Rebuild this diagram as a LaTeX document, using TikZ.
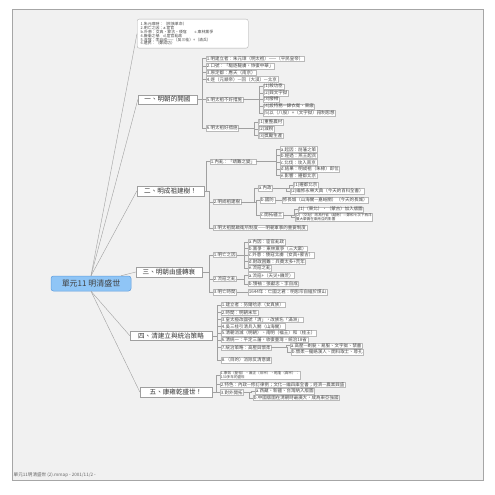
\documentclass[tikz,border=0pt]{standalone}
\usepackage{fontspec}
\setmainfont{Noto Sans CJK TC}
\usetikzlibrary{calc}
\definecolor{bg}{RGB}{241,241,241}
\definecolor{ln}{RGB}{160,160,160}
\definecolor{bx}{RGB}{185,185,185}
\definecolor{tx}{RGB}{70,70,70}
\definecolor{cfill}{RGB}{143,197,246}
\definecolor{cdraw}{RGB}{96,158,222}
\begin{document}
\begin{tikzpicture}[x=1bp,y=-1bp,
  conn/.style={draw=ln,line width=0.4bp},
  item/.style={draw=bx,line width=0.25bp,fill=white,inner xsep=0.8bp,inner ysep=0.3bp,text=tx,
    font=\fontsize{4.5}{5}\selectfont,anchor=west,minimum height=5.4bp},
  item2/.style={item,align=left,font=\fontsize{3.6}{3.5}\selectfont},
  sect/.style={draw=gray!75,line width=0.35bp,fill=white,font=\fontsize{6.6}{7}\selectfont,text=black!80,
    minimum height=9.5bp,inner xsep=2bp,inner ysep=0.5bp},
  topbox/.style={draw=gray!65,line width=0.35bp,fill=white,rounded corners=2bp,align=left,text=tx,
    font=\fontsize{3.9}{3.95}\selectfont,text width=104bp,inner xsep=3.5bp,inner ysep=2bp,
    minimum height=29bp,anchor=north west},
  central/.style={draw=cdraw,line width=0.5bp,fill=cfill,rounded corners=2.5bp,
    minimum width=80bp,minimum height=15bp,font=\fontsize{8}{9}\selectfont,text=black!75}
]
\useasboundingbox (0,0) rectangle (495,495);
\fill[white] (0,0) rectangle (495,495);
\filldraw[fill=bg,draw=gray!70,line width=0.6bp] (12,9) rectangle (483,480);
\node[anchor=west,font=\fontsize{4.6}{5}\selectfont,text=gray!80!black,inner sep=0.5bp] (foot) at (13,475) {單元11明清盛世 (2).mmap - 2001/11/2 -};

% central
\node[central] (C) at (91,283.5) {單元11 明清盛世};

% top box
\node[topbox] (top) at (137,19) {1.朱元璋時：（民族革命）\\2.明亡之因：a.宦官\\b.外患：女真、蒙古、倭寇　　c.東林黨爭\\4.廠衛之禍　d.宦官亂政\\5.流寇：李自成——（吳三桂）+（清兵）\\6.遺民：（鄭成功）};

% sections
\node[sect,minimum width=59bp] (S1) at (167.5,99.5) {一、明朝的開國};
\node[sect,minimum width=67bp] (S2) at (170.5,191) {二、明成祖建樹！};
\node[sect,minimum width=66bp] (S3) at (169,272) {三、明朝由盛轉衰};
\node[sect,minimum width=82bp] (S4) at (171,335.7) {四、清建立與統治策略};
\node[sect,minimum width=72bp] (S5) at (176,392) {五、康雍乾盛世！};

% section 1
\node[item] (a1) at (206,58.7) {1.明建立者：朱元璋（明太祖）——（平民皇帝）};
\node[item] (a2) at (206,66.2) {2.口號：「驅逐韃虜，恢復中華」};
\node[item] (a3) at (206,72.7) {3.原定都：應天（南京）};
\node[item] (a4) at (206,79.3) {4.逐（元順帝）—回（大漠）—北京};
\node[item] (a5) at (206,99.5) {5.明太祖不好措施};
\node[item] (a51) at (263,86.5) {(1)殺功臣};
\node[item] (a52) at (263,93) {(2)興文字獄};
\node[item] (a53) at (263,99.5) {(3)廢相};
\node[item] (a54) at (263,106.5) {(4)設特務—錦衣衛、東廠};
\node[item] (a55) at (263,113) {(5)以（八股）+（文字獄）箝制思想};
\node[item] (a6) at (206,128) {6.明太祖好措施};
\node[item] (a61) at (258,122.3) {(1)重整農村};
\node[item] (a62) at (258,129) {(2)減稅};
\node[item] (a63) at (258,135.7) {(3)獎勵生產};

% section 2
\node[item] (b1) at (210,161.7) {1.內亂：「靖難之變」};
\node[item] (b11) at (280,149.3) {a.起因：削藩之策};
\node[item] (b12) at (280,155.6) {b.經過：燕王起兵};
\node[item] (b13) at (280,162.3) {c.北伐：攻入南京};
\node[item] (b14) at (280,169) {d.結果：明成祖（朱棣）即位};
\node[item] (b15) at (280,175.5) {e.影響：遷都北京};
\node[item] (b2) at (213,201.7) {2.明成祖建樹};
\node[item] (b21) at (258,188) {a.內政};
\node[item] (b211) at (293,185) {(1)遷都北京};
\node[item] (b212) at (290,191) {(2)編修永樂大典（今天的百科全書）};
\node[item] (b22) at (260,200) {b.國防};
\node[item] (b221) at (282,200) {修長城（山海關—嘉峪關）（今天的長城）};
\node[item] (b23) at (260,215) {c.開拓疆土};
\node[item] (b231) at (298,209.5) {(1)（東北）、（蒙古）加入版圖};
\node[item2] (b232) at (295,217) {(2)（交趾）改為行省（越南）—鄭和七次下西洋\\擴大華僑在東南亞的影響};
\node[item] (b3) at (213,227.7) {3.明太祖開啟衛所制度——明朝軍事的重要制度};

% section 3
\node[item] (c1) at (213,254.7) {1.明亡之因};
\node[item] (c11) at (248,242) {a.內因：宦官亂政};
\node[item] (c12) at (248,248.5) {b.黨爭：東林黨爭（三大案）};
\node[item] (c13) at (248,255) {c.外患：倭寇北虜（女真+蒙古）};
\node[item] (c14) at (248,261.5) {d.財政困難：兵費太多+荒年};
\node[item] (c15) at (248,268) {e.流寇之亂};
\node[item] (c2) at (213,278.7) {2.流寇之亂};
\node[item] (c21) at (248,275.3) {a.流寇+（天災+饑荒）};
\node[item] (c22) at (248,283.7) {b.領袖：張獻忠、李自成};
\node[item] (c3) at (213,292) {3.明亡時間};
\node[item] (c31) at (248,292) {1644年：亡國之君：明思宗自縊於煤山};

% section 4
\node[item] (d1) at (221,304.7) {1.建立者：努爾哈赤（女真族）};
\node[item] (d2) at (221,312.5) {2.時間：明朝末年};
\node[item] (d3) at (221,319.5) {3.皇太極改國號「清」，改族名「滿洲」};
\node[item] (d4) at (221,326.3) {4.吳三桂引清兵入關（山海關）};
\node[item] (d5) at (221,333) {5.清朝消滅（明朝）、南明（福王）和（桂王）};
\node[item] (d6) at (221,339.7) {6.清統一：平定三藩，收復臺灣，統治18省};
\node[item] (d7) at (221,347.5) {7.統治策略：高壓與懷柔};
\node[item] (d71) at (290,345.5) {a.高壓—剃髮、易服、文字獄、禁書};
\node[item] (d72) at (291,352) {b.懷柔—攏絡漢人、開科取士、尊孔};
\node[item] (d8) at (221,360) {8.（目的）消除反清意識};

% section 5
\node[item2] (e1) at (220,375) {1.康熙（聖祖）、雍正（世宗）、乾隆（高宗）：\\130多年的盛世};
\node[item] (e2) at (220,384.5) {2.特色：內政—修訂律例；文化—編四庫全書；經濟—農業興盛};
\node[item] (e3) at (220,392.3) {3.對外開拓};
\node[item] (e31) at (255,391) {a.西藏、新疆、台灣納入版圖};
\node[item] (e32) at (253,397.7) {b.中國版圖在清朝時最廣大，成為東亞強國};

% central connectors
\draw[conn] (C.north) -- (top.west);
\draw[conn] (C.north) -- (S1.west);
\draw[conn] (C.north) -- (S2.west);
\draw[conn] ([xshift=30bp]C.north) -- (S3.west);
\draw[conn] (C.south) -- (S4.west);
\draw[conn] (C.south) -- (S5.west);

% elbow connectors
\newcommand\elb[2]{\draw[conn] (#1.east) -| ([xshift=-3.5bp]#2.west) -- (#2.west);}
\foreach \c in {a1,a2,a3,a4,a5,a6} {\elb{S1}{\c}}
\foreach \c in {a51,a52,a53,a54,a55} {\elb{a5}{\c}}
\foreach \c in {a61,a62,a63} {\elb{a6}{\c}}
\foreach \c in {b1,b2,b3} {\elb{S2}{\c}}
\foreach \c in {b11,b12,b13,b14,b15} {\elb{b1}{\c}}
\foreach \c in {b21,b22,b23} {\elb{b2}{\c}}
\foreach \c in {b211,b212} {\elb{b21}{\c}}
\draw[conn] (b22.east) -- (b221.west);
\foreach \c in {b231,b232} {\elb{b23}{\c}}
\foreach \c in {c1,c2,c3} {\elb{S3}{\c}}
\foreach \c in {c11,c12,c13,c14,c15} {\elb{c1}{\c}}
\foreach \c in {c21,c22} {\elb{c2}{\c}}
\draw[conn] (c3.east) -- (c31.west);
\foreach \c in {d1,d2,d3,d4,d5,d6,d7,d8} {\elb{S4}{\c}}
\foreach \c in {d71,d72} {\elb{d7}{\c}}
\foreach \c in {e1,e2,e3} {\elb{S5}{\c}}
\foreach \c in {e31,e32} {\elb{e3}{\c}}
\end{tikzpicture}
\end{document}
